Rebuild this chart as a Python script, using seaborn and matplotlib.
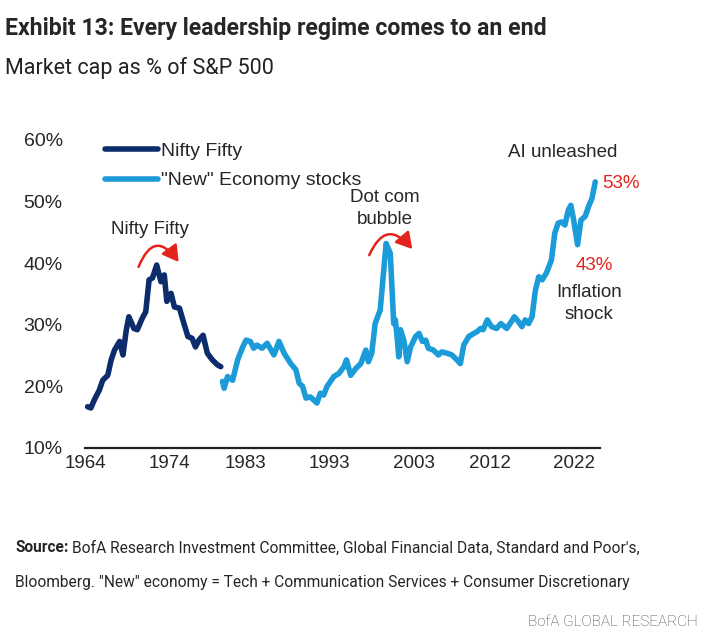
import numpy as np
import pandas as pd
import matplotlib.pyplot as plt
from matplotlib.patches import FancyArrowPatch
import seaborn as sns

# -----------------------------
# DATA
# -----------------------------

nifty_years = [1964.3, 1964.7, 1965.1, 1965.7, 1966.1, 1966.7, 1967.1, 1967.5, 1968.1, 1968.5,
               1968.9, 1969.2, 1969.8, 1970.2, 1970.8, 1971.2, 1971.6, 1972.0, 1972.5, 1973.0,
               1973.4, 1973.7, 1974.2, 1974.6, 1975.2, 1975.6, 1976.2, 1976.7, 1977.1, 1977.5,
               1978.0, 1978.5, 1979.1, 1979.7, 1980.1]
nifty_pct = [16.7, 16.5, 17.8, 19.4, 21.0, 21.8, 24.3, 25.9, 27.3, 25.1,
             29.2, 31.3, 29.4, 29.2, 31.1, 32.1, 37.3, 37.6, 39.7, 37.0,
             38.1, 33.8, 35.1, 32.9, 32.7, 30.8, 28.1, 27.8, 26.4, 27.5,
             28.3, 25.4, 24.3, 23.5, 23.2]

new_econ_years = [1980.3, 1980.5, 1980.9, 1981.5, 1982.1, 1982.7, 1983.1, 1983.6, 1984.0, 1984.4,
                  1985.0, 1985.6, 1986.4, 1987.0, 1987.6, 1988.4, 1989.0, 1989.4, 1989.8, 1990.2,
                  1990.7, 1991.5, 1991.9, 1992.3, 1992.7, 1993.5, 1994.1, 1994.7, 1995.0, 1995.5,
                  1996.1, 1996.7, 1997.3, 1997.6, 1998.0, 1998.4, 1999.0, 1999.7, 2000.2, 2000.6,
                  2000.8, 2001.0, 2001.2, 2001.4, 2001.8, 2002.2, 2002.6, 2003.2, 2003.6, 2004.0,
                  2004.4, 2004.7, 2005.3, 2005.9, 2006.3, 2006.9, 2007.5, 2008.1, 2008.5, 2008.9,
                  2009.5, 2010.1, 2010.5, 2010.9, 2011.2, 2011.7, 2012.2, 2012.8, 2013.3, 2014.0,
                  2014.4, 2014.9, 2015.4, 2015.8, 2016.2, 2016.6, 2017.0, 2017.4, 2017.8, 2018.2,
                  2018.7, 2019.3, 2019.7, 2020.1, 2020.5, 2020.9, 2021.3, 2021.6, 2021.9, 2022.4,
                  2022.8, 2023.3, 2023.7, 2024.1, 2024.5]
new_econ_pct = [20.8, 19.7, 21.6, 21.0, 24.3, 26.4, 27.5, 27.3, 26.2, 26.7,
                26.2, 27.0, 25.1, 27.3, 25.4, 23.7, 22.7, 20.5, 20.0, 18.1,
                18.3, 17.3, 18.9, 18.6, 20.0, 21.6, 22.1, 23.2, 24.3, 21.8,
                22.9, 23.7, 25.9, 24.0, 25.4, 30.2, 32.4, 43.2, 41.6, 30.2,
                30.8, 28.1, 24.8, 29.2, 27.5, 24.0, 26.4, 28.1, 28.6, 27.3,
                27.5, 26.2, 25.9, 25.1, 25.6, 25.4, 25.1, 24.3, 23.7, 26.7,
                28.1, 28.6, 28.9, 29.4, 29.2, 30.8, 29.7, 29.4, 30.2, 29.4,
                30.2, 31.3, 30.5, 29.7, 30.8, 30.2, 31.3, 35.6, 37.8, 37.3,
                38.4, 40.5, 44.9, 46.5, 46.7, 46.2, 48.6, 49.4, 47.3, 43.0,
                47.0, 47.6, 49.2, 50.5, 53.2]

year_ticks = [1964, 1974, 1983, 1993, 2003, 2012, 2022]
pct_ticks = [10, 20, 30, 40, 50, 60]

NAVY = "#0c2c6c"
SKY = "#1c9bd9"
RED = "#e5231d"

W, H = 707, 637


def px(x, y):
    # pixel position (from top-left) -> figure fraction
    return x / W, 1 - y / H


# -----------------------------
# PLOT
# -----------------------------

sns.set_theme(style="white")
plt.rcParams['font.family'] = ['Liberation Sans', 'DejaVu Sans']

fig = plt.figure(figsize=(W / 100, H / 100), dpi=100)
ax = fig.add_axes([85 / W, 1 - 448 / H, 515 / W, 308 / H])

nifty = pd.DataFrame({'year': nifty_years, 'pct': nifty_pct})
new_econ = pd.DataFrame({'year': new_econ_years, 'pct': new_econ_pct})

sns.lineplot(data=nifty, x='year', y='pct', color=NAVY, lw=4, sort=False,
             label='Nifty Fifty', ax=ax)
sns.lineplot(data=new_econ, x='year', y='pct', color=SKY, lw=4, sort=False,
             label='"New" Economy stocks', ax=ax)

ax.set_xlim(1964.1, 2025.06)
ax.set_ylim(10, 60)
ax.set_xticks(year_ticks)
ax.set_xticklabels([str(y) for y in year_ticks], fontsize=13.5)
ax.set_yticks(pct_ticks)
ax.set_yticklabels([f"{p}%" for p in pct_ticks], fontsize=14)
ax.tick_params(axis='x', length=0, pad=5)
ax.tick_params(axis='y', length=0, pad=16)
ax.set_xlabel("")
ax.set_ylabel("")
for side in ['top', 'right', 'left']:
    ax.spines[side].set_visible(False)
ax.spines['bottom'].set_color('#222222')
ax.spines['bottom'].set_linewidth(1.6)

leg = ax.legend(loc='upper left', bbox_to_anchor=(0.039, 0.993), frameon=False,
                fontsize=14, handlelength=2.7, handletextpad=0.15, labelspacing=0.62,
                borderpad=0, borderaxespad=0)
for line in leg.get_lines():
    line.set_linewidth(4)

# annotations
ax.text(1971.7, 45.4, "Nifty Fifty", fontsize=13.5, ha='center', va='center')
ax.text(1999.5, 48.9, "Dot com\nbubble", fontsize=13.5, ha='center', va='center',
        linespacing=1.35)
ax.text(2020.6, 57.9, "AI unleashed", fontsize=13.5, ha='center', va='center')
ax.text(2025.3, 53.0, "53%", fontsize=13.5, color=RED, ha='left', va='center')
ax.text(2024.4, 39.7, "43%", fontsize=13.5, color=RED, ha='center', va='center')
ax.text(2023.8, 33.5, "Inflation\nshock", fontsize=13.5, ha='center', va='center',
        linespacing=1.35)

arc_kw = dict(arrowstyle='-|>,head_length=0.6,head_width=0.35', mutation_scale=16,
              color=RED, lw=1.8, shrinkA=0, shrinkB=0)
ax.add_patch(FancyArrowPatch((1970.35, 39.4), (1975.1, 40.2),
                             connectionstyle='arc3,rad=-0.9', **arc_kw))
ax.add_patch(FancyArrowPatch((1997.7, 41.3), (2002.8, 42.3),
                             connectionstyle='arc3,rad=-0.8', **arc_kw))

# titles and footer
fig.text(*px(5, 28), "Exhibit 13: Every leadership regime comes to an end",
         family=['Roboto', 'DejaVu Sans'], fontweight='bold', fontsize=16.6, va='center')
fig.text(*px(5, 68), "Market cap as % of S&P 500",
         family=['Roboto', 'DejaVu Sans'], fontsize=15.5, color='#222222', va='center')

renderer = fig.canvas.get_renderer()
src = fig.text(*px(15, 548), "Source:", family=['Roboto', 'DejaVu Sans'],
               fontweight='bold', fontsize=11.2, va='center')
bb = src.get_window_extent(renderer)
fig.text((bb.x1 + 4) / W, 1 - 548 / H,
         "BofA Research Investment Committee, Global Financial Data, Standard and Poor's,",
         family=['Roboto', 'DejaVu Sans'], fontsize=11.2, va='center')
fig.text(*px(15, 583),
         "Bloomberg. \"New\" economy = Tech + Communication Services + Consumer Discretionary",
         family=['Roboto', 'DejaVu Sans'], fontsize=11.2, va='center')
fig.text(*px(698, 622), "BofA GLOBAL RESEARCH", family=['Roboto', 'DejaVu Sans'],
         fontweight='light', fontsize=11, color='#444444', ha='right', va='center')

fig.savefig("out.png", dpi=100)
